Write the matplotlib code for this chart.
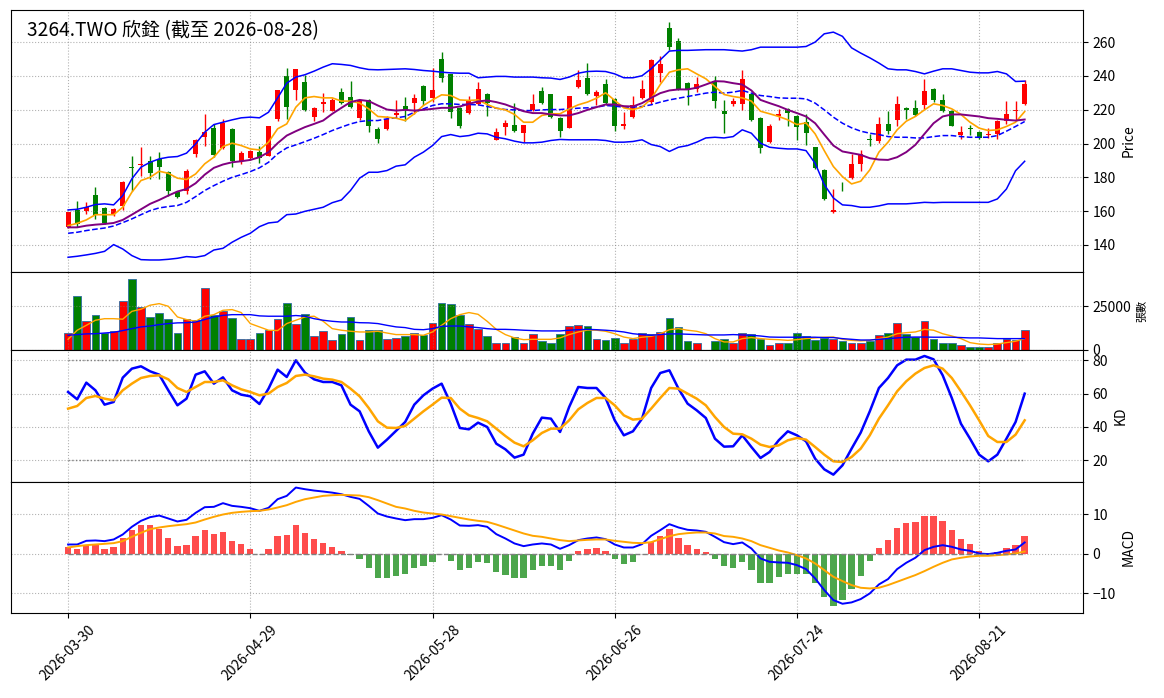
import numpy as np
import pandas as pd
import matplotlib
matplotlib.use("Agg")
import matplotlib.pyplot as plt

plt.rcParams['font.family'] = ['Noto Sans CJK TC', 'DejaVu Sans']

title = '3264.TWO 欣銓 (截至 2026-08-28)'
holidays = ['2026-04-03', '2026-04-06', '2026-05-01', '2026-06-19']
dates = [d for d in pd.bdate_range('2026-03-30', '2026-08-28') if d.strftime('%Y-%m-%d') not in holidays]
nan = np.nan

# OHLC (bar 70 has no trade)
opens = [150.8, 160.9, 160.3, 169.8, 161.9, 158.3, 163.3, 186.4, 187.0, 189.9,
         190.9, 183.4, 171.6, 172.2, 193.9, 203.7, 209.3, 197.4, 208.3, 189.9,
         191.3, 194.9, 192.9, 214.6, 239.7, 231.4, 236.3, 215.6, 223.5, 219.5,
         230.4, 227.8, 215.0, 225.8, 208.3, 208.7, 216.6, 221.9, 223.9, 234.3,
         226.8, 250.1, 240.9, 221.1, 217.9, 223.5, 229.4, 202.2, 209.7, 211.0,
         206.1, 220.1, 230.8, 229.0, 215.2, 209.3, 233.4, 238.9, 228.4, 235.3,
         226.4, 210.3, 215.6, 226.8, 224.5, 241.6, 268.5, 260.4, 235.9, 232.4,
         nan, 236.7, 219.5, 223.1, 223.1, 229.0, 215.2, 200.8, 216.0, 220.5,
         216.0, 212.6, 197.8, 184.4, 159.7, 177.5, 179.7, 188.0, 202.8, 201.4,
         211.6, 214.0, 221.1, 221.1, 222.9, 232.4, 225.8, 219.5, 204.9, 209.3,
         206.7, 204.9, 205.7, 213.2, 219.1, 223.1]
highs = [159.6, 165.8, 165.2, 174.5, 162.3, 161.9, 177.7, 192.9, 198.2, 192.5,
         194.9, 184.0, 171.9, 185.0, 202.8, 217.6, 211.6, 214.6, 209.3, 195.8,
         196.2, 198.8, 210.6, 231.8, 244.8, 244.2, 240.3, 221.5, 230.0, 227.0,
         233.0, 236.7, 225.8, 226.2, 209.7, 216.0, 225.5, 227.8, 229.4, 234.9,
         244.8, 254.1, 241.2, 221.5, 228.4, 236.3, 229.8, 209.3, 214.0, 224.1,
         211.2, 229.0, 233.4, 229.4, 215.6, 228.4, 243.6, 247.6, 231.4, 238.3,
         227.0, 218.9, 228.4, 237.7, 250.1, 251.5, 271.8, 262.6, 236.3, 239.3,
         nan, 239.7, 225.5, 227.0, 243.6, 229.4, 215.6, 211.6, 220.5, 221.1,
         216.6, 217.2, 198.2, 185.0, 173.1, 177.5, 193.9, 196.2, 205.7, 215.6,
         219.1, 228.4, 221.5, 225.8, 238.3, 233.0, 229.4, 219.9, 210.1, 211.0,
         207.3, 209.3, 214.0, 225.1, 225.1, 237.3]
lows = [150.3, 150.8, 158.3, 155.4, 152.4, 157.3, 160.7, 172.2, 181.0, 179.1,
        179.1, 169.2, 167.8, 170.2, 192.3, 198.8, 191.9, 196.8, 186.0, 187.6,
        190.3, 188.3, 192.5, 213.6, 214.6, 225.8, 219.5, 213.2, 218.5, 219.5,
        223.5, 221.1, 214.0, 206.7, 200.2, 208.1, 215.6, 213.6, 217.6, 222.5,
        224.5, 236.3, 215.0, 209.3, 217.2, 222.9, 216.2, 201.8, 205.3, 206.7,
        200.8, 219.5, 223.5, 215.2, 203.7, 209.1, 233.0, 228.8, 222.5, 222.5,
        207.3, 208.7, 215.2, 226.4, 223.5, 236.3, 255.1, 231.4, 222.5, 230.4,
        nan, 221.1, 206.1, 221.9, 219.9, 213.6, 194.3, 200.2, 214.0, 210.1,
        202.2, 199.4, 185.0, 166.6, 158.7, 172.2, 179.1, 184.0, 198.8, 200.2,
        205.7, 210.6, 214.6, 216.0, 220.5, 224.5, 218.7, 210.1, 202.8, 205.3,
        202.8, 203.3, 202.8, 211.6, 213.6, 222.5]
closes = [159.3, 152.4, 162.7, 157.9, 153.2, 161.3, 177.5, 185.6, 188.0, 182.8,
          186.0, 172.2, 168.2, 184.0, 202.2, 206.7, 193.5, 212.0, 189.9, 194.5,
          195.8, 191.3, 210.6, 231.4, 221.5, 244.2, 219.9, 221.1, 224.3, 225.8,
          223.9, 221.5, 225.5, 210.6, 202.8, 214.6, 218.0, 219.9, 227.0, 225.1,
          231.4, 238.7, 218.5, 210.3, 224.9, 232.4, 223.9, 207.1, 212.4, 207.3,
          211.0, 223.5, 223.9, 215.6, 207.3, 228.4, 237.7, 229.4, 230.4, 223.9,
          210.3, 211.6, 222.5, 232.4, 249.5, 247.2, 257.0, 232.4, 232.4, 235.3,
          nan, 225.1, 217.6, 225.1, 237.9, 214.0, 197.4, 210.6, 217.2, 218.0,
          209.7, 206.1, 185.6, 167.2, 160.7, 177.1, 187.6, 193.9, 202.2, 211.6,
          207.3, 223.1, 219.9, 217.0, 230.8, 225.8, 219.1, 210.3, 206.9, 208.5,
          203.3, 205.7, 213.6, 217.6, 220.1, 235.3]

ma5 = [151.4, 152.8, 154.8, 157.9, 157.9, 157.9, 162.3, 171.2, 178.1, 180.0,
       183.6, 182.4, 179.5, 178.7, 182.0, 188.0, 191.9, 198.2, 200.2, 198.8,
       196.8, 196.2, 200.8, 208.7, 211.6, 221.5, 227.0, 227.8, 227.0, 227.0,
       225.1, 225.1, 223.9, 220.5, 216.0, 215.6, 215.0, 213.6, 217.6, 222.5,
       225.8, 228.8, 228.4, 225.8, 225.5, 225.8, 223.1, 220.9, 219.9, 217.2,
       212.6, 212.6, 216.6, 217.6, 217.6, 220.5, 222.9, 224.5, 226.8, 230.0,
       225.5, 221.1, 220.1, 221.5, 226.4, 234.9, 242.2, 243.6, 244.2, 241.2,
       238.3, 233.7, 229.0, 227.8, 227.0, 225.1, 219.1, 217.6, 216.0, 214.0,
       211.2, 212.2, 205.7, 195.8, 186.4, 180.4, 176.1, 177.7, 184.4, 194.9,
       200.8, 208.1, 213.2, 216.0, 219.9, 223.5, 222.5, 220.5, 217.2, 212.6,
       209.1, 207.7, 208.1, 210.1, 212.6, 218.9]
ma10 = [150.4, 150.4, 151.4, 152.0, 152.4, 153.0, 154.8, 157.9, 161.1, 164.3,
        166.6, 169.2, 171.6, 173.1, 176.5, 181.6, 185.6, 187.6, 188.9, 189.5,
        190.3, 191.9, 194.9, 200.2, 204.7, 207.3, 209.7, 211.6, 213.6, 217.6,
        221.1, 224.5, 225.8, 225.1, 222.5, 220.1, 219.5, 219.9, 219.5, 219.9,
        220.5, 221.1, 221.1, 221.9, 223.5, 224.9, 225.5, 224.5, 223.1, 221.1,
        219.1, 218.0, 218.0, 217.2, 216.6, 216.6, 218.0, 219.9, 221.5, 223.1,
        223.1, 222.1, 221.9, 223.9, 227.0, 229.8, 231.4, 232.0, 232.0, 233.0,
        234.9, 236.9, 236.7, 235.7, 234.9, 231.4, 225.8, 223.9, 222.1, 219.9,
        218.0, 216.0, 212.0, 205.3, 198.8, 195.3, 194.3, 193.3, 191.3, 190.5,
        190.3, 191.9, 194.9, 199.2, 205.7, 212.0, 216.0, 217.2, 217.2, 216.6,
        216.0, 215.0, 214.6, 214.0, 213.6, 214.2]
bb_mid = [146.9, 147.5, 148.5, 149.3, 150.0, 151.2, 153.2, 155.4, 157.9, 160.3,
          161.9, 162.7, 163.3, 165.2, 168.6, 172.2, 175.1, 177.7, 180.0, 181.6,
          183.4, 185.6, 188.9, 193.9, 197.4, 199.2, 201.1, 203.1, 205.3, 207.7,
          209.7, 211.6, 213.0, 213.6, 213.6, 214.6, 215.2, 216.0, 218.5, 220.5,
          222.5, 223.5, 223.5, 223.1, 223.1, 222.9, 221.9, 220.9, 220.1, 219.9,
          219.5, 219.5, 219.9, 220.1, 220.1, 220.5, 220.9, 221.1, 221.5, 222.5,
          222.1, 221.5, 221.5, 221.9, 222.9, 224.5, 225.8, 226.8, 227.8, 228.8,
          229.8, 230.4, 229.8, 230.4, 231.4, 229.8, 228.4, 227.8, 227.0, 226.8,
          226.8, 226.4, 223.9, 219.9, 215.6, 212.0, 209.3, 207.3, 206.1, 205.3,
          204.1, 203.7, 203.7, 203.3, 203.3, 204.1, 204.7, 204.7, 204.1, 203.7,
          203.7, 203.7, 204.7, 207.3, 210.1, 213.0]
bb_up = [160.7, 161.1, 162.3, 163.9, 164.3, 163.7, 169.2, 179.1, 186.0, 188.9,
         190.9, 191.9, 192.3, 194.3, 199.8, 206.7, 211.2, 212.6, 214.0, 215.2,
         215.6, 215.2, 218.5, 227.0, 235.7, 239.3, 240.7, 242.8, 245.2, 247.2,
         246.8, 246.2, 244.8, 243.8, 243.6, 243.8, 244.0, 244.2, 243.8, 243.2,
         242.8, 242.2, 241.8, 241.6, 241.6, 238.9, 239.3, 239.7, 239.7, 239.3,
         239.3, 239.3, 238.9, 238.7, 237.9, 239.3, 241.6, 242.6, 242.8, 242.6,
         241.2, 238.9, 238.9, 240.1, 244.2, 249.5, 254.7, 255.1, 255.1, 255.3,
         255.5, 255.5, 255.5, 255.1, 254.7, 255.5, 257.0, 257.0, 257.0, 257.0,
         257.0, 257.4, 260.0, 264.9, 265.9, 263.4, 256.6, 253.5, 250.7, 247.6,
         244.2, 243.6, 243.6, 242.6, 241.2, 242.8, 244.2, 244.2, 243.2, 242.2,
         241.8, 241.8, 242.6, 241.2, 236.7, 236.9]
bb_lo = [132.7, 133.3, 134.1, 135.0, 136.2, 140.2, 137.6, 133.7, 131.3, 131.1,
         131.1, 131.5, 132.1, 133.1, 132.7, 133.7, 137.0, 138.0, 141.6, 144.5,
         146.9, 150.8, 153.0, 153.6, 157.9, 158.3, 159.9, 161.1, 162.3, 165.0,
         166.6, 172.2, 179.5, 183.0, 183.0, 184.0, 186.6, 187.4, 191.9, 194.9,
         198.8, 204.1, 205.3, 204.1, 204.7, 206.1, 205.7, 203.7, 202.8, 201.4,
         200.4, 200.4, 200.8, 201.8, 202.4, 202.2, 202.2, 202.2, 202.2, 201.8,
         200.8, 200.8, 201.2, 202.2, 199.4, 198.2, 195.3, 197.8, 198.8, 200.8,
         203.3, 203.7, 203.3, 204.1, 208.1, 206.1, 200.2, 197.8, 197.2, 196.8,
         196.8, 195.8, 188.3, 175.7, 167.8, 163.7, 163.3, 162.3, 162.3, 163.1,
         164.3, 164.3, 164.3, 164.7, 165.2, 165.0, 165.2, 165.2, 165.2, 165.2,
         165.2, 165.2, 167.2, 173.1, 183.9, 189.5]

volume = [9900, 30700, 16800, 19800, 9900, 10700, 27900, 40450, 24400, 18700,
          21000, 17900, 9500, 17900, 17000, 35500, 19800, 22100, 18500, 6500,
          6500, 9900, 11600, 17900, 26900, 14700, 20400, 7800, 10700, 5500,
          9200, 18700, 5500, 11300, 11300, 6100, 6900, 7800, 9500, 8400,
          15600, 26900, 26100, 19800, 15100, 12200, 7800, 4200, 4200, 7300,
          4200, 9000, 5000, 3800, 9000, 13500, 14100, 13500, 6100, 5500,
          6700, 4200, 6100, 9900, 9300, 10100, 18100, 13000, 5000, 4200,
          nan, 5000, 6100, 4200, 9500, 9000, 6100, 2700, 3800, 3800,
          9500, 7800, 5500, 6700, 6100, 5000, 4200, 3800, 5000, 8400,
          9500, 15300, 9000, 7400, 16400, 6100, 4200, 3800, 2700, 1900,
          1900, 1900, 3800, 6100, 5500, 11300]
vol_ma5 = [6100, 11300, 14100, 17000, 17900, 17900, 17600, 22100, 23300, 25600,
           26500, 25000, 18900, 17400, 16400, 19300, 20200, 22700, 23100, 21400,
           15100, 13200, 11300, 11100, 15100, 17000, 18900, 19300, 16400, 12200,
           11300, 10700, 10300, 10300, 10700, 9700, 8800, 8800, 8800, 8400,
           10300, 14100, 17900, 20200, 21400, 20400, 16400, 11800, 8800, 6900,
           5900, 6100, 6100, 6100, 6900, 8800, 10300, 11400, 11300, 10700,
           9300, 7400, 6500, 7300, 7800, 9300, 11600, 12200, 11300, 10700,
           9300, 6500, 4600, 4600, 6500, 7100, 6500, 6100, 5900, 5500,
           5900, 6500, 6900, 7300, 7400, 6100, 5500, 5200, 5500, 6500,
           7400, 9300, 9900, 10300, 11800, 11300, 9300, 8000, 6500, 4200,
           3400, 3100, 3400, 4200, 5000, 6500]
vol_ma20 = [8400, 8800, 9200, 9300, 9700, 10100, 11100, 12200, 13200, 13700,
            14500, 15100, 15500, 15600, 16000, 17400, 18900, 19800, 20200, 20200,
            20200, 19500, 19300, 19300, 19300, 19700, 19300, 17900, 17000, 16400,
            16000, 16000, 15600, 15500, 15100, 14100, 13200, 12800, 11800, 11600,
            12200, 13500, 13700, 13700, 13200, 12800, 12200, 11800, 11800, 11600,
            11300, 11100, 10900, 10900, 10900, 11300, 11600, 11800, 11600, 11300,
            10900, 10300, 9300, 8800, 8400, 8800, 9200, 9200, 9000, 8800,
            8600, 8600, 8600, 8800, 8600, 8400, 8000, 7400, 7300, 7300,
            7300, 7300, 7300, 7100, 7100, 6500, 6100, 5700, 5700, 6100,
            6500, 6900, 7300, 7400, 7400, 7300, 7300, 7300, 7100, 6900,
            6900, 6700, 6500, 6500, 6500, 6500]

k_line = [61.0, 56.6, 66.6, 62.0, 53.4, 55.0, 69.6, 75.0, 76.4, 73.4,
          71.4, 62.0, 53.0, 57.0, 71.4, 73.4, 66.0, 69.8, 62.0, 59.4,
          58.4, 53.8, 63.0, 74.4, 70.0, 80.0, 72.6, 68.6, 67.0, 67.0,
          65.0, 53.4, 49.4, 37.4, 27.6, 32.4, 37.7, 43.0, 53.4, 59.0,
          63.0, 66.0, 54.0, 39.4, 38.6, 42.6, 40.0, 30.0, 26.6, 21.6,
          23.4, 36.0, 45.6, 45.0, 37.0, 52.0, 64.0, 63.4, 63.4, 57.4,
          44.0, 35.0, 37.4, 45.0, 63.4, 72.4, 74.0, 63.0, 54.0, 50.0,
          45.4, 33.0, 28.2, 28.4, 35.0, 28.0, 21.4, 25.0, 32.0, 37.4,
          35.0, 31.4, 21.0, 14.6, 11.4, 17.0, 27.0, 36.6, 49.4, 63.4,
          69.4, 77.0, 80.4, 80.4, 82.6, 80.6, 71.0, 57.4, 42.0, 33.0,
          23.4, 19.4, 23.4, 33.0, 43.0, 60.0]
d_line = [51.0, 52.6, 57.4, 58.6, 57.0, 56.0, 62.0, 66.0, 69.4, 70.6,
          71.0, 68.6, 63.4, 61.0, 64.0, 67.0, 67.0, 68.0, 65.0, 62.6,
          61.0, 59.0, 60.0, 64.0, 66.4, 70.6, 71.4, 70.4, 69.0, 68.4,
          67.0, 63.0, 58.4, 51.4, 43.4, 39.6, 39.4, 40.6, 45.0, 49.4,
          53.4, 57.6, 57.4, 51.0, 47.0, 45.4, 43.4, 39.0, 34.6, 30.6,
          28.4, 32.0, 36.4, 39.0, 39.0, 44.0, 50.6, 54.4, 57.4, 57.4,
          53.0, 47.0, 44.4, 45.0, 51.0, 57.4, 63.4, 63.0, 60.0, 57.0,
          53.0, 46.0, 40.0, 36.0, 35.6, 33.0, 29.4, 28.0, 29.0, 32.0,
          33.4, 32.4, 28.0, 23.4, 19.4, 19.0, 22.0, 27.0, 35.0, 45.0,
          53.0, 61.4, 67.4, 72.0, 75.4, 77.0, 75.0, 69.4, 61.4, 53.0,
          44.0, 34.6, 31.0, 31.0, 35.4, 44.0]

dif = [2.36, 2.36, 3.29, 3.38, 3.21, 3.63, 4.89, 6.84, 8.35, 9.28,
       9.70, 8.95, 8.19, 8.61, 10.38, 11.81, 11.90, 12.83, 12.15, 11.90,
       11.56, 10.89, 11.65, 13.84, 14.68, 16.79, 16.37, 16.03, 15.78, 15.50,
       15.10, 14.43, 13.92, 12.15, 10.21, 9.45, 8.95, 8.52, 8.78, 8.78,
       9.11, 9.79, 8.69, 7.17, 7.09, 7.26, 6.84, 4.98, 3.88, 2.62,
       1.94, 2.36, 2.62, 2.36, 1.27, 2.19, 3.46, 3.88, 4.14, 3.71,
       2.36, 1.60, 1.60, 2.45, 4.56, 5.99, 7.51, 6.67, 6.08, 5.91,
       5.57, 4.30, 2.95, 2.45, 2.87, 1.35, -1.18, -2.03, -2.19, -2.28,
       -2.87, -3.88, -6.24, -9.20, -11.73, -12.66, -12.32, -11.48, -10.04, -7.76,
       -6.41, -3.88, -2.28, -1.01, 0.93, 1.77, 2.19, 1.77, 1.10, 0.76,
       0.08, -0.08, 0.25, 0.76, 1.10, 2.87]
dea = [1.60, 1.94, 2.19, 2.36, 2.53, 2.70, 3.21, 4.30, 5.32, 6.24,
       6.67, 7.00, 7.26, 7.51, 7.93, 8.69, 9.37, 9.96, 10.38, 10.63,
       10.80, 10.89, 11.22, 11.73, 12.32, 13.16, 13.84, 14.26, 14.68, 14.85,
       14.94, 14.85, 14.77, 14.35, 13.59, 12.74, 11.90, 11.48, 10.89, 10.46,
       10.21, 9.96, 9.54, 9.11, 8.69, 8.35, 8.10, 7.43, 6.67, 5.91,
       5.15, 4.56, 4.30, 3.88, 3.46, 3.21, 3.38, 3.54, 3.63, 3.63,
       3.29, 3.04, 2.78, 2.70, 2.95, 3.71, 4.47, 4.98, 5.23, 5.40,
       5.40, 5.15, 4.50, 4.30, 3.88, 3.21, 2.19, 1.52, 0.84, 0.34,
       -0.34, -1.18, -2.45, -4.14, -5.82, -6.92, -7.93, -8.61, -8.78, -8.61,
       -7.93, -7.09, -6.24, -5.40, -4.39, -3.29, -2.28, -1.43, -1.01, -0.68,
       -0.51, -0.51, -0.34, -0.17, 0.08, 0.59]
macd_hist = [1.6, 1.27, 2.2, 2.2, 1.27, 1.8, 4.05, 6.0, 7.3, 7.2,
             6.4, 4.05, 2.0, 2.3, 4.6, 6.1, 5.1, 5.6, 3.3, 2.4,
             1.27, -0.1, 1.27, 4.6, 4.8, 7.3, 5.3, 3.8, 2.8, 1.8,
             0.76, -0.42, -1.27, -3.7, -6.2, -6.2, -5.7, -5.0, -3.7, -3.0,
             -2.0, -0.15, -1.9, -4.2, -3.5, -2.2, -2.4, -4.7, -5.5, -6.2,
             -6.2, -4.2, -3.0, -3.0, -4.0, -1.7, 0.76, 1.27, 1.5, 0.76,
             -1.43, -2.7, -2.0, -0.1, 3.0, 4.6, 6.3, 4.05, 2.3, 1.27,
             0.5, -1.2, -3.2, -3.7, -2.2, -4.0, -7.3, -7.3, -6.0, -5.0,
             -5.0, -5.2, -7.5, -11.05, -13.3, -11.8, -9.0, -5.7, -1.9, 1.5,
             3.5, 6.6, 7.85, 8.1, 9.6, 9.6, 8.35, 6.1, 3.8, 2.5,
             0.76, 0.08, 0.5, 1.5, 2.3, 4.6]

x = np.arange(len(dates))
o = np.array(opens); h = np.array(highs); l = np.array(lows); c = np.array(closes)
up = c >= o
cols = np.where(up, 'red', 'green')
ok = ~np.isnan(c)

fig = plt.figure(figsize=(11.64, 6.98), dpi=100)
gs = fig.add_gridspec(4, 1, height_ratios=[262, 78, 132, 131], hspace=0,
                      left=0.0095, right=0.9304, top=0.9857, bottom=0.1218)
ax1 = fig.add_subplot(gs[0])
ax2 = fig.add_subplot(gs[1], sharex=ax1)
ax3 = fig.add_subplot(gs[2], sharex=ax1)
ax4 = fig.add_subplot(gs[3], sharex=ax1)

# candles
ax1.vlines(x[ok], l[ok], h[ok], color=cols[ok], linewidth=1)
body_lo = np.minimum(o, c)[ok]
body_h = np.maximum(np.abs(c - o)[ok], 0.4)
ax1.bar(x[ok], body_h, bottom=body_lo, width=0.55, color=cols[ok])
ax1.plot(x, bb_up, color='blue', lw=1.1)
ax1.plot(x, bb_lo, color='blue', lw=1.1)
ax1.plot(x, bb_mid, color='blue', lw=1.1, ls='--')
ax1.plot(x, ma5, color='orange', lw=1.2)
ax1.plot(x, ma10, color='purple', lw=1.4)
ax1.set_ylim(124, 279)
ax1.set_ylabel('Price')
ax1.text(0.015, 0.962, title, transform=ax1.transAxes, fontsize=13.8,
         fontweight='medium', va='top', ha='left')

# volume
v = np.array(volume)
ax2.bar(x[ok], v[ok], width=0.85, color=cols[ok], edgecolor='#2b6ca3', linewidth=0.6)
ax2.plot(x, vol_ma5, color='orange', lw=1)
ax2.plot(x, vol_ma20, color='blue', lw=1)
ax2.set_ylim(0, 44600)
ax2.set_yticks([0, 25000])
ax2.set_ylabel('張數', fontsize=8)

# KD
ax3.plot(x, k_line, color='blue', lw=1.8)
ax3.plot(x, d_line, color='orange', lw=1.8)
ax3.hlines([20, 80], x[0], x[-1], colors='gray', linestyles=':', lw=1)
ax3.set_ylim(7, 86.2)
ax3.set_ylabel('KD')

# MACD
hist = np.array(macd_hist)
ax4.bar(x, hist, width=0.7, color=np.where(hist >= 0, 'red', 'green'), alpha=0.7)
ax4.plot(x, dif, color='blue', lw=1.4)
ax4.plot(x, dea, color='orange', lw=1.4)
ax4.hlines(0, x[0], x[-1], colors='gray', linestyles='--', lw=1)
ax4.set_ylim(-15, 18.2)
ax4.set_ylabel('MACD')

ticks = x[::20]
for ax in (ax1, ax2, ax3, ax4):
    ax.yaxis.tick_right()
    ax.yaxis.set_label_position('right')
    ax.grid(True, linestyle=':', color='gray', alpha=0.6, linewidth=0.8)
    ax.set_xticks(ticks)
for ax in (ax1, ax2, ax3):
    ax.tick_params(labelbottom=False)
ax4.set_xticklabels([dates[i].strftime('%Y-%m-%d') for i in ticks], rotation=45, ha='center')
ax1.set_xlim(-6.26, 111.4)

fig.savefig('out.png', dpi=100)
